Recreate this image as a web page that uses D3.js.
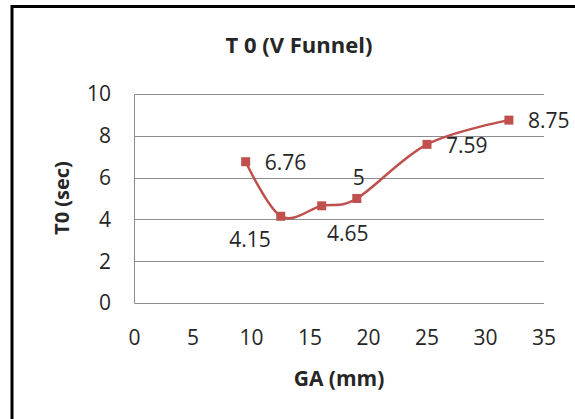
<!DOCTYPE html>
<html>
<head>
<meta charset="utf-8">
<script src="https://cdn.jsdelivr.net/npm/d3@7"></script>
<style>
  body { margin: 0; background: #fff; }
  text { font-family: "Open Sans", sans-serif; fill: #262626; }
</style>
</head>
<body>
<div id="chart"></div>
<script>
// data
const gaValues = [9.5, 12.5, 16, 19, 25, 32];
const t0Values = [6.76, 4.15, 4.65, 5, 7.59, 8.75];
const labelSpots = ["right", "below-left", "below", "above", "right", "right"];
const xTicks = [0, 5, 10, 15, 20, 25, 30, 35];
const yTicks = [0, 2, 4, 6, 8, 10];

const width = 575, height = 419;
const margin = {left: 134.5, right: 31, top: 94, bottom: 116};
const red = "#c0504d";

const svg = d3.select("#chart")
    .append("svg")
    .attr("width", width)
    .attr("height", height);

// outer chart border (runs off the right and bottom)
svg.append("rect")
    .attr("x", 12)
    .attr("y", 6.5)
    .attr("width", 600)
    .attr("height", 450)
    .attr("fill", "none")
    .attr("stroke", "#000")
    .attr("stroke-width", 3);

const x = d3.scaleLinear()
    .domain([0, 35])
    .range([margin.left, width - margin.right]);

const y = d3.scaleLinear()
    .domain([0, 10])
    .range([height - margin.bottom, margin.top]);

// gridlines
svg.append("g")
    .selectAll("line")
    .data(yTicks)
    .enter()
    .append("line")
    .attr("x1", x(0))
    .attr("x2", x(35))
    .attr("y1", d => Math.round(y(d)) + 0.5)
    .attr("y2", d => Math.round(y(d)) + 0.5)
    .attr("stroke", "#8c8c8c")
    .attr("stroke-width", 1);

// vertical axis line
svg.append("line")
    .attr("x1", x(0))
    .attr("x2", x(0))
    .attr("y1", Math.round(y(10)) + 0.5)
    .attr("y2", Math.round(y(0)) + 0.5)
    .attr("stroke", "#8c8c8c");

// tick labels
svg.append("g")
    .selectAll("text")
    .data(yTicks)
    .enter()
    .append("text")
    .attr("x", 111)
    .attr("y", d => y(d))
    .attr("dy", "0.35em")
    .attr("text-anchor", "end")
    .style("font-size", "21px")
    .text(d => d);

svg.append("g")
    .selectAll("text")
    .data(xTicks)
    .enter()
    .append("text")
    .attr("x", d => x(d))
    .attr("y", 338)
    .attr("dy", "0.35em")
    .attr("text-anchor", "middle")
    .style("font-size", "21px")
    .text(d => d);

// titles
svg.append("text")
    .attr("x", 299)
    .attr("y", 45)
    .attr("dy", "0.35em")
    .attr("text-anchor", "middle")
    .style("font-size", "22px")
    .style("font-weight", "bold")
    .text("T 0 (V Funnel)");

svg.append("text")
    .attr("x", 339)
    .attr("y", 379)
    .attr("dy", "0.35em")
    .attr("text-anchor", "middle")
    .style("font-size", "21px")
    .style("font-weight", "bold")
    .text("GA (mm)");

svg.append("text")
    .attr("transform", "translate(62,198) rotate(-90)")
    .attr("dy", "0.35em")
    .attr("text-anchor", "middle")
    .style("font-size", "20px")
    .style("font-weight", "bold")
    .text("T0 (sec)");

const points = gaValues.map((d, i) => ({ga: d, t: t0Values[i], spot: labelSpots[i]}));

const line = d3.line()
    .x(d => x(d.ga))
    .y(d => y(d.t))
    .curve(d3.curveCardinal.tension(0));

svg.append("path")
    .datum(points)
    .attr("d", line)
    .attr("fill", "none")
    .attr("stroke", red)
    .attr("stroke-width", 2.5);

svg.append("g")
    .selectAll("rect")
    .data(points)
    .enter()
    .append("rect")
    .attr("x", d => x(d.ga) - 4.5)
    .attr("y", d => y(d.t) - 4.5)
    .attr("width", 9)
    .attr("height", 9)
    .attr("fill", red);

// data labels, placed like Excel's label positions
const offsets = {
    "right": [19, 1, "start"],
    "below-left": [-10, 23, "end"],
    "below": [26, 28, "middle"],
    "above": [2, -21, "middle"],
};

svg.append("g")
    .selectAll("text")
    .data(points)
    .enter()
    .append("text")
    .attr("x", d => x(d.ga) + offsets[d.spot][0])
    .attr("y", d => y(d.t) + offsets[d.spot][1])
    .attr("dy", "0.35em")
    .attr("text-anchor", d => offsets[d.spot][2])
    .style("font-size", "21px")
    .text(d => d.t);
</script>
</body>
</html>
